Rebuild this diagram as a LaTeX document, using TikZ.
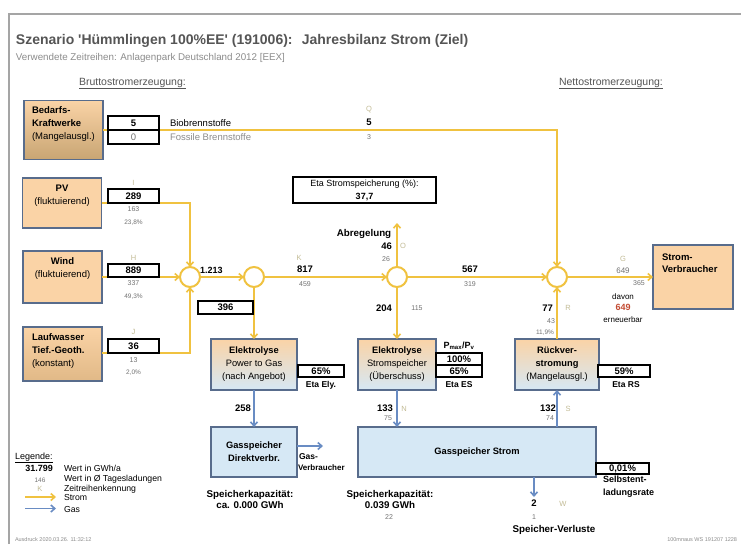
\documentclass[tikz,border=0pt]{standalone}
\usepackage{fontspec}
\setmainfont{Liberation Sans}
\usetikzlibrary{arrows.meta}
\definecolor{strom}{RGB}{240,194,64}
\definecolor{gas}{RGB}{105,140,195}
\definecolor{bxborder}{RGB}{88,108,140}
\definecolor{orfill}{RGB}{250,211,166}
\definecolor{orbrown}{RGB}{200,165,115}
\definecolor{lwbrown}{RGB}{225,185,135}
\definecolor{blfill}{RGB}{214,232,245}
\definecolor{idgray}{RGB}{195,188,150}
\definecolor{smgray}{RGB}{115,115,115}
\definecolor{ttgray}{RGB}{85,85,85}
\definecolor{sbgray}{RGB}{140,140,140}
\definecolor{frgray}{RGB}{165,165,165}
\definecolor{redval}{RGB}{195,75,50}
\newcommand{\fsz}[2]{\fontsize{#1}{#2}\selectfont}
\begin{document}
\begin{tikzpicture}[x=1pt,y=-1pt,
  every node/.style={inner sep=0pt, outer sep=0pt},
  lbl/.style={anchor=mid, font=\fsz{9.5}{11}},
  num/.style={anchor=mid, font=\fsz{9.5}{11}\bfseries},
  sm/.style={anchor=mid, font=\fsz{7}{8}, text=smgray},
  idl/.style={anchor=mid, font=\fsz{7.5}{8}, text=idgray},
  srcbox/.style={draw=bxborder, line width=1.5pt, fill=orfill},
  srctxt/.style={font=\fsz{9.5}{13}, align=center},
  valbox/.style={draw=black, line width=1.2pt, fill=white, font=\fsz{9.5}{11}\bfseries},
  elybox/.style={draw=bxborder, line width=1.5pt, top color=orfill, bottom color=blfill, align=center, font=\fsz{9.3}{13}},
  gasbox/.style={draw=bxborder, line width=1.5pt, fill=blfill, align=center, font=\fsz{9.3}{13}\bfseries},
  junc/.style={circle, draw=strom, line width=2pt, fill=white, minimum size=20pt},
  sline/.style={draw=strom, line width=1.6pt},
  sarr/.style={sline, -{Straight Barb[length=4pt,width=7pt]}},
  gline/.style={draw=gas, line width=1.6pt},
  garr/.style={gline, -{Straight Barb[length=4pt,width=7pt]}},
  etalbl/.style={anchor=mid, font=\fsz{8.5}{10}\bfseries},
  leglbl/.style={anchor=west, font=\fsz{8.7}{10}}
]
\useasboundingbox (0,0) rectangle (741,544);
\fill[white] (0,0) rectangle (741,544);
\draw[frgray, line width=1.5pt] (9,544) -- (9,14) -- (741,14);

% titles
\node[anchor=base west, font=\fsz{14}{16}\bfseries, text=ttgray] (title) at (16,44)
  {Szenario \textquotesingle Hümmlingen 100\%EE\textquotesingle\ (191006):\hspace{4pt} Jahresbilanz Strom (Ziel)};
\node[anchor=base west, font=\fsz{9.8}{11}, text=sbgray] (subtitle) at (16,60)
  {Verwendete Zeitreihen: Anlagenpark Deutschland 2012 [EEX]};
\node[anchor=base west, font=\fsz{10.5}{12}, text=ttgray] (brutto) at (79,85) {\underline{Bruttostromerzeugung:}};
\node[anchor=base west, font=\fsz{10.5}{12}, text=ttgray] (netto) at (559,85) {\underline{Nettostromerzeugung:}};

% source boxes
\node[srcbox, minimum width=79pt, minimum height=59pt, top color=orfill, bottom color=orbrown, draw=bxborder] (bed) at (63.5,130) {};
\node[srctxt, anchor=west, align=left] (bedtxt) at (32,124) {\textbf{Bedarfs-}\\\textbf{Kraftwerke}\\(Mangelausgl.)};
\node[srcbox, minimum width=79pt, minimum height=50pt] (pv) at (62,203) {};
\node[srctxt] (pvtxt) at (62,196) {\textbf{PV}\\(fluktuierend)};
\node[srcbox, minimum width=79pt, minimum height=52pt] (wind) at (62.5,277) {};
\node[srctxt] (windtxt) at (62.5,268.5) {\textbf{Wind}\\(fluktuierend)};
\node[srcbox, minimum width=79pt, minimum height=54pt, top color=orfill, bottom color=lwbrown, draw=bxborder] (lw) at (62.5,354) {};
\node[srctxt, anchor=west, align=left] (lwtxt) at (32,351) {\textbf{Laufwasser}\\\textbf{Tief.-Geoth.}\\(konstant)};

% consumer box
\node[srcbox, minimum width=80pt, minimum height=64pt] (sv) at (693,277) {};
\node[srctxt, anchor=west, align=left, font=\fsz{9.5}{12}\bfseries] (svtxt) at (662,263) {Strom-\\Verbraucher};

% junctions
\node[junc] (c1) at (190,277) {};
\node[junc] (c2) at (254,277) {};
\node[junc] (c3) at (397,277) {};
\node[junc] (c4) at (557,277) {};

% process boxes
\node[elybox, minimum width=86pt, minimum height=51pt] (ely1) at (254,364.5) {\textbf{Elektrolyse}\\Power to Gas\\(nach Angebot)};
\node[elybox, minimum width=78pt, minimum height=51pt] (ely2) at (397,364.5) {\textbf{Elektrolyse}\\Stromspeicher\\(Überschuss)};
\node[elybox, minimum width=84pt, minimum height=51pt] (rs) at (557,364.5) {\textbf{Rückver-}\\\textbf{stromung}\\(Mangelausgl.)};
\node[gasbox, minimum width=86pt, minimum height=50pt] (gd) at (254,452) {Gasspeicher\\Direktverbr.};
\node[gasbox, minimum width=238pt, minimum height=50pt] (gs) at (477,452) {Gasspeicher Strom};

% free ends
\coordinate (abr) at (397,223);
\coordinate (gv) at (323,446);
\coordinate (verl) at (534,497);

% strom connectors
\draw[sarr] (bed.east) -| (c4.north);
\draw[sarr] (pv.east) -| (c1.north);
\draw[sarr] (wind.east) -- (c1.west);
\draw[sarr] (lw.east |- 0,353) -| (c1.south);
\draw[sarr] (c1.east) -- (c2.west);
\draw[sarr] (c2.east) -- (c3.west);
\draw[sarr] (c3.east) -- (c4.west);
\draw[sarr] (c4.east) -- (sv.west);
\draw[sarr] (c3.north) -- (abr);
\draw[sarr] (c2.south) -- (ely1.north);
\draw[sarr] (c3.south) -- (ely2.north);
\draw[sarr] (rs.north) -- (c4.south);

% gas connectors
\draw[garr] (ely1.south) -- (gd.north);
\draw[garr] (ely2.south) -- (ely2.south |- gs.north);
\draw[garr] (gs.north -| rs.south) -- (rs.south);
\draw[garr] (gd.east |- gv) -- (gv);
\draw[garr] (gs.south -| verl) -- (verl);

% value boxes
\node[valbox, minimum width=51pt, minimum height=14pt] (v5) at (133.5,123) {5};
\node[valbox, minimum width=51pt, minimum height=14pt, font=\fsz{9.5}{11}, text=smgray] (v0) at (133.5,137) {0};
\node[valbox, minimum width=51pt, minimum height=14pt] (v289) at (133.5,196) {289};
\node[valbox, minimum width=51pt, minimum height=13pt] (v889) at (133.5,270.5) {889};
\node[valbox, minimum width=51pt, minimum height=14pt] (v36) at (133.5,346) {36};
\node[valbox, minimum width=55pt, minimum height=13pt] (v396) at (225.5,307.5) {396};
\node[valbox, minimum width=46pt, minimum height=12pt] (vely) at (321,371) {65\%};
\node[valbox, minimum width=46pt, minimum height=12pt] (vpmax) at (459,359) {100\%};
\node[valbox, minimum width=46pt, minimum height=12pt] (ves) at (459,371) {65\%};
\node[valbox, minimum width=52pt, minimum height=12pt] (vrs) at (624,371) {59\%};
\node[valbox, minimum width=53pt, minimum height=11pt] (vself) at (622.5,468.5) {0,01\%};
\node[valbox, minimum width=143pt, minimum height=26pt, align=center, font=\fsz{9}{13}] (eta) at (364.5,190) {Eta Stromspeicherung (\%):\\\textbf{37,7}};

% labels: Bedarf
\node[lbl, anchor=west] (bio) at (170,123) {Biobrennstoffe};
\node[lbl, anchor=west, text=sbgray] (fos) at (170,137) {Fossile Brennstoffe};
\node[idl] (lq) at (369,109) {Q};
\node[num] (n5) at (369,123) {5};
\node[sm] (n3) at (369,137) {3};
% PV
\node[idl] (li) at (133.5,183) {I};
\node[sm] (n163) at (133.5,209) {163};
\node[sm, font=\fsz{6.5}{8}] (p238) at (133.5,222) {23,8\%};
% Wind
\node[idl] (lh) at (133.5,258) {H};
\node[sm] (n337) at (133.5,283) {337};
\node[sm, font=\fsz{6.5}{8}] (p493) at (133.5,296) {49,3\%};
% Laufwasser
\node[idl] (lj) at (133.5,332) {J};
\node[sm] (n13) at (133.5,360) {13};
\node[sm, font=\fsz{6.5}{8}] (p20) at (133.5,372) {2,0\%};
% main line
\node[num, anchor=west, font=\fsz{9}{11}\bfseries] (n1213) at (200,270) {1.213};
\node[idl] (lk) at (299,258) {K};
\node[num] (n817) at (305,270) {817};
\node[sm] (n459) at (305,284) {459};
\node[num, font=\fsz{9.8}{11}\bfseries] (abrtxt) at (364,234) {Abregelung};
\node[num, anchor=east] (n46) at (392,246) {46};
\node[idl] (lo) at (403,246) {O};
\node[sm] (n26) at (386,259) {26};
\node[num] (n567) at (470,270) {567};
\node[sm] (n319) at (470,284) {319};
\node[idl] (lg) at (623,259) {G};
\node[sm, font=\fsz{8}{9}] (n649g) at (623,271) {649};
\node[sm] (n365) at (639,283) {365};
\node[lbl, font=\fsz{8}{9}] (davon) at (623,297) {davon};
\node[num, font=\fsz{9}{10}\bfseries, text=redval] (n649r) at (623,308) {649};
\node[lbl, font=\fsz{8}{9}] (erneu) at (623,320) {erneuerbar};
% ely / rs
\node[num, anchor=east] (n204) at (392,308) {204};
\node[sm] (n115) at (417,308) {115};
\node[num, font=\fsz{9}{10}\bfseries] (pmax) at (459,346) {P\textsubscript{max}/P\textsubscript{v}};
\node[etalbl] (etaely) at (321,385) {Eta Ely.};
\node[etalbl] (etaes) at (459,385) {Eta ES};
\node[etalbl] (etars) at (626,385) {Eta RS};
\node[num, anchor=east] (n77) at (553,308) {77};
\node[idl] (lr) at (568,308) {R};
\node[sm] (n43) at (551,321) {43};
\node[sm, font=\fsz{6.5}{8}] (p119) at (545,332) {11,9\%};
% gas
\node[num] (n258) at (243,409) {258};
\node[num] (n133) at (385,409) {133};
\node[idl] (ln) at (404,409) {N};
\node[sm] (n75) at (388,418) {75};
\node[num] (n132) at (548,409) {132};
\node[idl] (ls) at (568,409) {S};
\node[sm] (n74) at (550,418) {74};
\node[anchor=west, font=\fsz{8.5}{10}\bfseries] (gasv1) at (299,457) {Gas-};
\node[anchor=west, font=\fsz{8}{10}\bfseries] (gasv2) at (298,468) {Verbraucher};
\node[align=center, font=\fsz{9.8}{11}\bfseries] (kap1) at (250,499.5) {Speicherkapazität:\\ca. 0.000 GWh};
\node[align=center, font=\fsz{9.8}{11}\bfseries] (kap2) at (390,499.5) {Speicherkapazität:\\0.039 GWh};
\node[sm] (n22) at (389,517) {22};
\node[anchor=west, align=left, font=\fsz{9}{13}\bfseries] (selbst) at (603,486.5) {Selbstent-\\ladungsrate};
\node[num] (n2) at (534,504) {2};
\node[idl] (lw2) at (563,504) {W};
\node[sm] (n1) at (534,517) {1};
\node[num, font=\fsz{9.8}{11}\bfseries] (verltxt) at (554,530) {Speicher-Verluste};

% legend
\node[anchor=west, font=\fsz{9}{11}] (leg) at (15,458) {\underline{Legende:}};
\node[num, anchor=east, font=\fsz{9}{10}\bfseries] (leg1) at (53,468) {31.799};
\node[sm, font=\fsz{6.5}{8}] (leg2) at (40,479.5) {146};
\node[idl] (leg3) at (40,489) {K};
\coordinate (lsa) at (25,497);
\coordinate (lsb) at (56,497);
\coordinate (lga) at (25,508.5);
\coordinate (lgb) at (56,508.5);
\draw[sarr] (lsa) -- (lsb);
\draw[garr] (lga) -- (lgb);
\node[leglbl] (legt1) at (64,468) {Wert in GWh/a};
\node[leglbl] (legt2) at (64,479.5) {Wert in Ø Tagesladungen};
\node[leglbl] (legt3) at (64,489) {Zeitreihenkennung};
\node[leglbl] (legt4) at (64,497.5) {Strom};
\node[leglbl] (legt5) at (64,509) {Gas};

% footer
\node[anchor=west, font=\fsz{5.5}{6}, text=sbgray] (foot1) at (15,540) {Ausdruck 2020.03.26. 11:32:12};
\node[anchor=east, font=\fsz{5.5}{6}, text=sbgray] (foot2) at (737,540) {100mnaus WS 191207 1228};
\end{tikzpicture}
\end{document}
